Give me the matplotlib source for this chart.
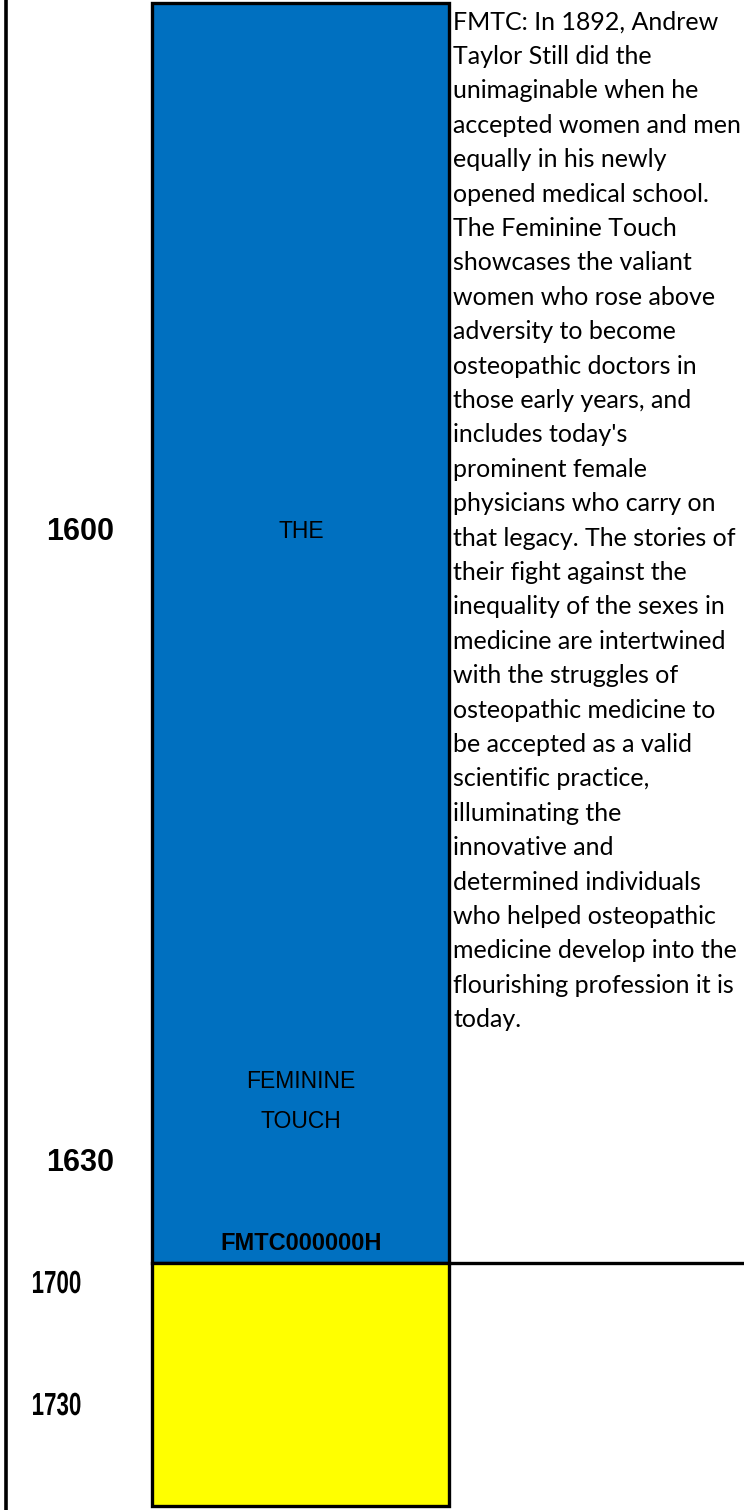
import matplotlib.pyplot as plt
from matplotlib.patches import Rectangle
from matplotlib.patheffects import AbstractPathEffect
from matplotlib.transforms import Affine2D

# timeline content
years = ['1600', '1630', '1700', '1730']
year_rows = [532, 1163, 1285, 1407]
year_narrow = [False, False, True, True]

block_colors = ['#0070C0', '#FFFF00']
block_top = [3, 1263]
block_bottom = [1263, 1506]

title_words = ['THE', 'FEMININE', 'TOUCH']
title_rows = [532, 1082, 1122]
code_label = 'FMTC000000H'

desc_lines = [
    "FMTC: In 1892, Andrew",
    "Taylor Still did the",
    "unimaginable when he",
    "accepted women and men",
    "equally in his newly",
    "opened medical school.",
    "The Feminine Touch",
    "showcases the valiant",
    "women who rose above",
    "adversity to become",
    "osteopathic doctors in",
    "those early years, and",
    "includes today's",
    "prominent female",
    "physicians who carry on",
    "that legacy. The stories of",
    "their fight against the",
    "inequality of the sexes in",
    "medicine are intertwined",
    "with the struggles of",
    "osteopathic medicine to",
    "be accepted as a valid",
    "scientific practice,",
    "illuminating the",
    "innovative and",
    "determined individuals",
    "who helped osteopathic",
    "medicine develop into the",
    "flourishing profession it is",
    "today.",
]


class Squeeze(AbstractPathEffect):
    """narrow the glyphs horizontally around a fixed display x"""
    def __init__(self, cx, sx):
        super().__init__()
        self.cx = cx
        self.sx = sx

    def draw_path(self, renderer, gc, tpath, affine, rgbFace=None):
        extra = Affine2D().translate(-self.cx, 0).scale(self.sx, 1).translate(self.cx, 0)
        renderer.draw_path(gc, tpath, affine + extra, rgbFace)


W, H = 744, 1510
fig = plt.figure(figsize=(W / 100, H / 100), dpi=100)
ax = fig.add_axes([0, 0, 1, 1])
ax.set_xlim(0, W)
ax.set_ylim(H, 0)
ax.axis('off')

# left rule
ax.plot([5.5, 5.5], [0, H], color='black', lw=2.6, solid_capstyle='butt')

# colored blocks
for c, t, b in zip(block_colors, block_top, block_bottom):
    ax.add_patch(Rectangle((152, t), 297, b - t, facecolor=c, edgecolor='black', lw=2.4))

# divider to the right of the blocks
ax.plot([449, W], [1263, 1263], color='black', lw=2.4, solid_capstyle='butt')

for y, label, narrow in zip(year_rows, years, year_narrow):
    if narrow:
        x = 56.5
        t = ax.text(x, y, label, ha='center', va='center', fontsize=23, fontweight='bold',
                    family='Liberation Sans')
        cx = ax.transData.transform((x, y))[0]
        t.set_path_effects([Squeeze(cx, 0.7)])
    else:
        ax.text(80, y, label, ha='center', va='center', fontsize=22, fontweight='bold',
                family='Liberation Sans')

for y, w in zip(title_rows, title_words):
    ax.text(301, y, w, ha='center', va='center', fontsize=16.5, family='Liberation Sans')

ax.text(301, 1244, code_label, ha='center', va='center', fontsize=17, fontweight='bold',
        family='Liberation Sans')

for i, line in enumerate(desc_lines):
    ax.text(453, 22 + i * 34.4, line, ha='left', va='center', fontsize=18, family='Lato')

fig.savefig('out.png', dpi=100)
